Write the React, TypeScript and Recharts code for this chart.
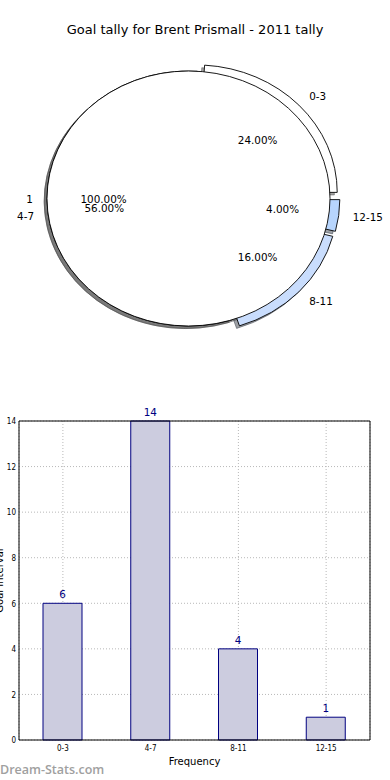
import React from 'react';
import { PieChart, Pie, Cell, BarChart, Bar, XAxis, YAxis, CartesianGrid, LabelList } from 'recharts';

const title = 'Goal tally for Brent Prismall - 2011 tally';
const categories = ['0-3', '4-7', '8-11', '12-15'];
const tally = [6, 14, 4, 1];
const explodeAmounts = [0.07, 0, 0.07, 0.07];
const sliceColors = ['#ffffff', '#ffffff', '#c9ddfd', '#b7d5fd'];
const overlayNames = ['1'];
const overlayValues = [1];
const overlayColors = ['#ffffff'];
const yTicks = [0, 2, 4, 6, 8, 10, 12, 14];
const xAxisTitle = 'Frequency';
const yAxisTitle = 'Goal Interval';
const watermark = 'Dream-Stats.com';

const pieData = categories.map((name, i) => ({ name, value: tally[i] }));
const overlayData = overlayNames.map((name, i) => ({ name, value: overlayValues[i] }));
const barData = categories.map((name, i) => ({ name, value: tally[i] }));

const FONT = '"DejaVu Sans", sans-serif';
const RX = 141.5;
const ASPECT = 127.5 / 141.5;
const RAD = Math.PI / 180;

function explodeOf(name: string) {
  const i = categories.indexOf(name);
  return i >= 0 ? explodeAmounts[i] : 0;
}

function shade(hex: string) {
  const h = (hex || '#ffffff').replace('#', '');
  const r = Math.round(parseInt(h.slice(0, 2), 16) * 0.3);
  const g = Math.round(parseInt(h.slice(2, 4), 16) * 0.3);
  const b = Math.round(parseInt(h.slice(4, 6), 16) * 0.3);
  return `rgb(${r},${g},${b})`;
}

function ellipseSector(cx: number, cy: number, rx: number, ry: number, a0: number, a1: number) {
  const delta = a1 - a0;
  if (Math.abs(delta) >= 359.999) {
    return `M ${cx + rx} ${cy} A ${rx} ${ry} 0 1 0 ${cx - rx} ${cy} A ${rx} ${ry} 0 1 0 ${cx + rx} ${cy} Z`;
  }
  const x0 = cx + rx * Math.cos(a0 * RAD);
  const y0 = cy - ry * Math.sin(a0 * RAD);
  const x1 = cx + rx * Math.cos(a1 * RAD);
  const y1 = cy - ry * Math.sin(a1 * RAD);
  const large = Math.abs(delta) > 180 ? 1 : 0;
  const sweep = delta > 0 ? 0 : 1;
  return `M ${cx} ${cy} L ${x0} ${y0} A ${rx} ${ry} 0 ${large} ${sweep} ${x1} ${y1} Z`;
}

function makeShape(mode: 'main' | 'shadow' | 'none') {
  return (props: any) => {
    if (mode === 'none') return <g />;
    const { cx, cy, outerRadius, startAngle, endAngle, fill } = props;
    const name = props.name ?? props.payload?.name;
    const e = explodeOf(name);
    const rx = outerRadius;
    const ry = outerRadius * ASPECT;
    const mid = props.midAngle ?? (startAngle + endAngle) / 2;
    let ox = cx + e * rx * Math.cos(mid * RAD);
    let oy = cy - e * ry * Math.sin(mid * RAD);
    if (mode === 'shadow') {
      ox += -0.02 * rx;
      oy += 0.02 * ry;
    }
    const d = ellipseSector(ox, oy, rx, ry, startAngle, endAngle);
    if (mode === 'shadow') {
      const c = shade(fill);
      return <path d={d} fill={c} fillOpacity={0.5} stroke={c} strokeOpacity={0.5} strokeWidth={1} />;
    }
    return <path d={d} fill={fill} stroke="#000" strokeWidth={0.9} strokeLinejoin="round" />;
  };
}

const renderPieLabel = (props: any) => {
  const { cx, cy, outerRadius, midAngle, percent } = props;
  const name = props.name ?? props.payload?.name;
  const e = explodeOf(name);
  const rx = outerRadius;
  const ry = outerRadius * ASPECT;
  const c = Math.cos(midAngle * RAD);
  const s = Math.sin(midAngle * RAD);
  const ex = cx + e * rx * c;
  const ey = cy - e * ry * s;
  const lx = ex + 1.1 * rx * c;
  const ly = ey - 1.1 * ry * s;
  const px = ex + 0.6 * rx * c;
  const py = ey - 0.6 * ry * s;
  return (
    <g>
      <text x={lx} y={ly} textAnchor={lx > cx ? 'start' : 'end'} dominantBaseline="central" fontSize={10.4} fontFamily={FONT} fill="#000">
        {name}
      </text>
      <text x={px} y={py} textAnchor="middle" dominantBaseline="central" fontSize={10.4} fontFamily={FONT} fill="#000">
        {`${(percent * 100).toFixed(2)}%`}
      </text>
    </g>
  );
};

const XTick = (p: any) => (
  <text transform={`translate(${p.x},${p.y}) scale(0.8,1)`} textAnchor="middle" dominantBaseline="central" fontSize={9} fontFamily={FONT} fill="#000">
    {p.payload?.value}
  </text>
);

const YTick = (p: any) => (
  <text transform={`translate(${p.x},${p.y}) scale(0.8,1)`} textAnchor="end" dominantBaseline="central" fontSize={9} fontFamily={FONT} fill="#000">
    {p.payload?.value}
  </text>
);

const XTitle = (p: any) => {
  const vb = p.viewBox || { x: 19, y: 340, width: 351, height: 40 };
  return (
    <text x={vb.x + vb.width / 2} y={vb.y + 21} textAnchor="middle" dominantBaseline="central" fontSize={10} fontFamily={FONT} fill="#000">
      {xAxisTitle}
    </text>
  );
};

const YTitle = (p: any) => {
  const vb = p.viewBox || { x: 0, y: 21, width: 19, height: 319 };
  return (
    <text transform={`translate(${vb.x + 2.5},${vb.y + vb.height / 2}) rotate(-90)`} textAnchor="middle" fontSize={10} fontFamily={FONT} fill="#000">
      {yAxisTitle}
    </text>
  );
};

export default function App() {
  return (
    <div style={{ position: 'absolute', left: 0, top: 0, width: 390, height: 780, background: '#fff', fontFamily: FONT, overflow: 'hidden' }}>
      <div style={{ position: 'absolute', left: 0, top: 22, width: 390, textAlign: 'center', fontSize: 13, lineHeight: '15px', color: '#000', whiteSpace: 'nowrap' }}>
        {title}
      </div>
      <div style={{ position: 'absolute', left: 0, top: 0 }}>
        <PieChart width={390} height={380} margin={{ top: 0, right: 0, bottom: 0, left: 0 }}>
          <Pie data={pieData} dataKey="value" nameKey="name" cx={188.5} cy={198.5} outerRadius={RX} startAngle={0} endAngle={360} isAnimationActive={false} shape={makeShape('shadow')} labelLine={false} label={false}>
            {pieData.map((d, i) => (
              <Cell key={d.name} fill={sliceColors[i]} />
            ))}
          </Pie>
          <Pie data={overlayData} dataKey="value" nameKey="name" cx={188.5} cy={198.5} outerRadius={RX} startAngle={0} endAngle={360} isAnimationActive={false} shape={makeShape('shadow')} labelLine={false} label={false}>
            {overlayData.map((d, i) => (
              <Cell key={d.name} fill={overlayColors[i]} />
            ))}
          </Pie>
          <Pie data={pieData} dataKey="value" nameKey="name" cx={188.5} cy={198.5} outerRadius={RX} startAngle={0} endAngle={360} isAnimationActive={false} shape={makeShape('main')} labelLine={false} label={false}>
            {pieData.map((d, i) => (
              <Cell key={d.name} fill={sliceColors[i]} />
            ))}
          </Pie>
          <Pie data={overlayData} dataKey="value" nameKey="name" cx={188.5} cy={198.5} outerRadius={RX} startAngle={0} endAngle={360} isAnimationActive={false} shape={makeShape('main')} labelLine={false} label={renderPieLabel}>
            {overlayData.map((d, i) => (
              <Cell key={d.name} fill={overlayColors[i]} />
            ))}
          </Pie>
          <Pie data={pieData} dataKey="value" nameKey="name" cx={188.5} cy={198.5} outerRadius={RX} startAngle={0} endAngle={360} isAnimationActive={false} shape={makeShape('none')} fill="none" stroke="none" labelLine={false} label={renderPieLabel} />
        </PieChart>
      </div>
      <div style={{ position: 'absolute', left: 0, top: 400 }}>
        <BarChart width={390} height={380} data={barData} margin={{ top: 20, right: 20, bottom: 0, left: 0 }} barSize={39}>
          <CartesianGrid xAxisId="b" yAxisId="l" stroke="#b8b8b8" strokeDasharray="1 2" />
          <XAxis xAxisId="b" dataKey="name" height={40} interval={0} tickLine={false} axisLine={{ stroke: '#000' }} tick={XTick} label={<XTitle />} />
          <XAxis xAxisId="t" dataKey="name" orientation="top" height={1} tick={false} tickLine={false} axisLine={{ stroke: '#000' }} />
          <YAxis yAxisId="l" domain={[0, 14]} ticks={yTicks} width={19} interval={0} tickSize={2} tickMargin={1} tickLine={false} axisLine={{ stroke: '#000' }} tick={YTick} label={<YTitle />} />
          <YAxis yAxisId="r" orientation="right" domain={[0, 14]} ticks={yTicks} width={1} mirror tick={false} tickSize={3} tickLine={{ stroke: '#000' }} axisLine={{ stroke: '#000' }} />
          <Bar xAxisId="b" yAxisId="l" dataKey="value" fill="#ccccdf" stroke="#000080" strokeWidth={1} isAnimationActive={false}>
            <LabelList dataKey="value" position="top" fill="#000080" fontSize={10.4} fontFamily={FONT} />
          </Bar>
        </BarChart>
      </div>
      <div style={{ position: 'absolute', left: 0, top: 762, fontFamily: '"Open Sans", sans-serif', fontWeight: 600, fontSize: 12.5, lineHeight: '15px', color: '#a0a0a0', whiteSpace: 'nowrap' }}>
        {watermark}
      </div>
    </div>
  );
}
